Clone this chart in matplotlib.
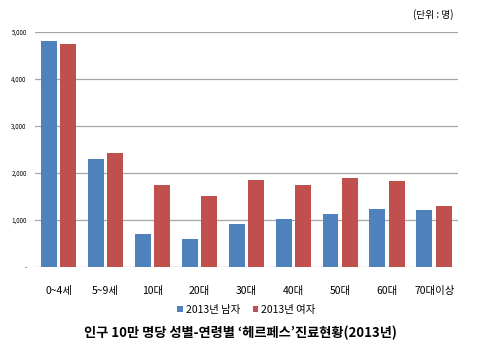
import numpy as np
import matplotlib
matplotlib.use("Agg")
import matplotlib.pyplot as plt

plt.rcParams['font.family'] = ['Noto Sans CJK KR', 'DejaVu Sans']

groups = ["0~4세", "5~9세", "10대", "20대", "30대", "40대", "50대", "60대", "70대이상"]
male = [4815, 2290, 700, 596, 908, 1021, 1135, 1241, 1213]
female = [4745, 2420, 1745, 1518, 1851, 1745, 1887, 1837, 1291]
yticks = [0, 1000, 2000, 3000, 4000, 5000]
ylabels = ["-", "1,000", "2,000", "3,000", "4,000", "5,000"]

fig = plt.figure(figsize=(4.81, 3.56), dpi=100)
ax = fig.add_axes([0.0728, 0.25, 0.879, 0.66])

x = np.arange(len(groups))
w = 0.34
ax.bar(x - 0.21, male, w, color="#4F81BD", label="2013년 남자", zorder=3)
ax.bar(x + 0.21, female, w, color="#C0504D", label="2013년 여자", zorder=3)

ax.set_xlim(-0.5, len(groups) - 0.5)
ax.set_ylim(0, 5000)
ax.set_yticks(yticks)
ax.set_yticklabels(ylabels, fontsize=4.5)
ax.set_xticks(x)
ax.set_xticklabels(groups, fontsize=7.5)
ax.tick_params(axis='x', length=0, pad=14)
ax.tick_params(axis='y', length=0, pad=6)
ax.yaxis.grid(True, color="#A6A6A6", linewidth=0.9, zorder=0)
for s in ax.spines.values():
    s.set_visible(False)

ax.legend(loc="upper center", bbox_to_anchor=(0.5, -0.12), ncol=2, frameon=False,
          fontsize=7.5, handlelength=0.5, handleheight=0.5, handletextpad=0.3,
          columnspacing=1.2)

fig.text(0.9, 0.96, "(단위 : 명)", fontsize=7, ha="center", va="center")
fig.text(0.5, 0.066, "인구 10만 명당 성별-연령별 ‘헤르페스’진료현황(2013년)",
         fontsize=9.5, fontweight="bold", ha="center", va="center")

fig.savefig("out.png", dpi=100)
